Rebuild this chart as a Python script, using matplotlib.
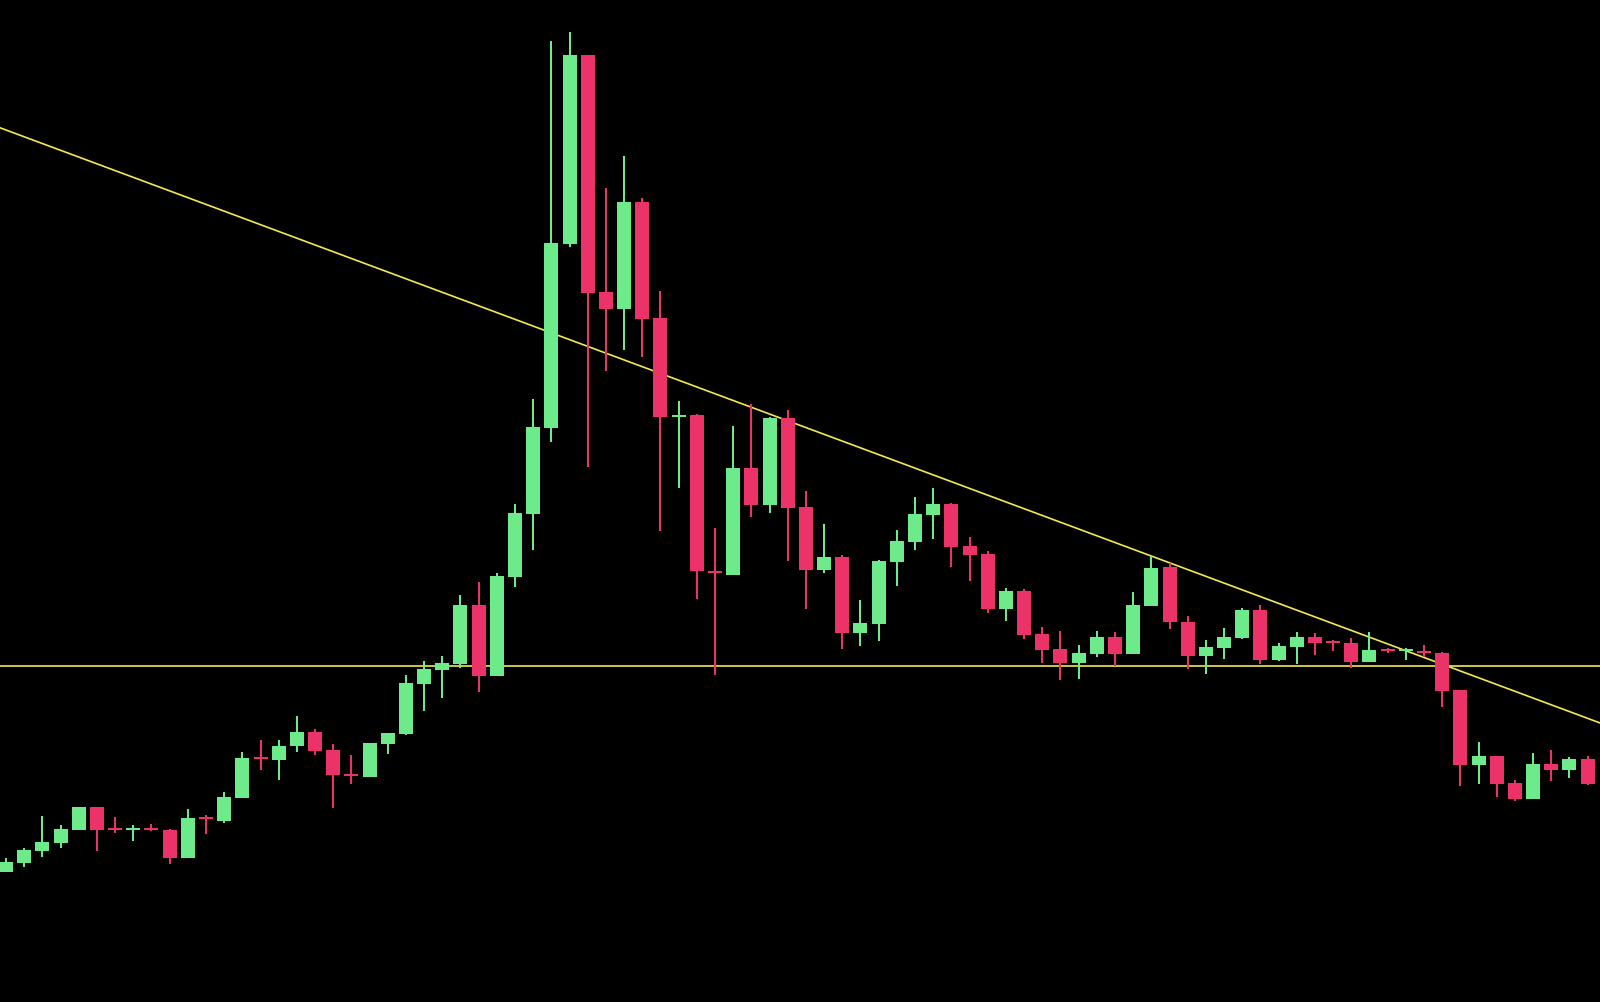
import matplotlib

matplotlib.use("Agg")
import matplotlib.pyplot as plt
import numpy as np

# OHLC prices, one entry per candle (left to right)
OPENS = [
    12.8, 13.7, 14.9, 15.7, 17.0, 19.3, 17.2, 17.1, 17.2, 17.0,
    14.2, 18.3, 17.9, 20.2, 24.3, 24.0, 25.4, 26.8, 25.0, 22.6,
    22.3, 25.6, 26.6, 31.6, 33.0, 33.6, 39.5, 32.4, 42.3, 48.6,
    57.2, 75.6, 94.5, 70.8, 69.1, 79.8, 68.2, 58.4, 58.5, 42.9,
    42.5, 53.2, 49.5, 58.2, 49.3, 43.0, 44.3, 36.7, 37.6, 43.8,
    45.8, 48.5, 49.6, 45.4, 44.6, 39.1, 40.9, 36.6, 35.1, 33.7,
    34.6, 36.3, 34.6, 39.4, 43.3, 37.8, 34.4, 35.2, 36.2, 39.0,
    34.0, 35.3, 36.3, 35.9, 35.7, 33.8, 35.1, 35.0, 34.9, 34.7,
    31.0, 23.5, 24.4, 21.7, 20.1, 23.6, 23.0, 24.1,
]
HIGHS = [
    14.2, 15.2, 18.4, 17.5, 19.3, 19.3, 18.3, 17.5, 17.6, 17.1,
    19.1, 18.5, 20.8, 24.8, 26.0, 26.0, 28.4, 27.1, 25.6, 24.5,
    25.7, 26.7, 32.5, 33.9, 34.4, 40.5, 41.8, 42.7, 49.6, 60.1,
    95.9, 96.8, 94.5, 81.2, 84.4, 80.2, 70.9, 59.9, 58.6, 47.2,
    57.4, 59.6, 58.3, 59.0, 50.9, 47.6, 44.5, 40.0, 44.0, 47.0,
    50.3, 51.2, 49.7, 46.3, 44.9, 41.2, 41.1, 37.3, 36.9, 35.5,
    36.9, 36.8, 40.8, 44.4, 43.7, 38.4, 36.0, 37.2, 39.2, 39.5,
    35.7, 36.8, 36.7, 36.0, 36.2, 36.8, 35.2, 35.2, 35.5, 34.8,
    31.0, 25.8, 24.4, 22.0, 24.7, 25.0, 24.3, 24.4,
]
LOWS = [
    12.8, 13.3, 14.3, 15.2, 17.0, 14.9, 16.7, 15.9, 16.9, 13.6,
    14.2, 16.6, 17.7, 20.2, 23.0, 22.0, 24.8, 24.5, 19.2, 21.6,
    22.3, 24.6, 26.5, 28.9, 30.2, 33.2, 30.8, 32.4, 41.3, 45.0,
    55.8, 75.3, 53.3, 62.9, 65.0, 64.3, 46.9, 51.2, 40.1, 32.5,
    42.5, 48.3, 48.7, 43.9, 39.1, 42.7, 35.1, 35.4, 35.9, 41.4,
    45.0, 46.1, 43.3, 41.9, 38.7, 37.9, 36.1, 33.7, 32.0, 32.1,
    34.3, 33.4, 34.6, 39.4, 37.1, 33.1, 32.6, 34.1, 36.1, 33.6,
    33.9, 33.6, 34.5, 34.9, 33.2, 33.8, 34.7, 34.0, 34.3, 29.3,
    21.4, 21.6, 20.3, 19.9, 20.1, 21.9, 22.2, 21.5,
]
CLOSES = [
    13.8, 15.0, 15.8, 17.1, 19.3, 17.0, 17.1, 17.2, 17.1, 14.2,
    18.2, 18.2, 20.3, 24.2, 24.2, 25.4, 26.8, 24.9, 22.5, 22.5,
    25.7, 26.7, 31.7, 33.1, 33.7, 39.5, 32.4, 42.4, 48.7, 57.3,
    75.7, 94.5, 70.7, 69.1, 79.8, 68.1, 58.3, 58.5, 42.9, 42.8,
    53.2, 49.5, 58.2, 49.2, 43.0, 44.3, 36.7, 37.7, 43.9, 45.9,
    48.6, 49.6, 45.3, 44.5, 39.1, 40.9, 36.5, 35.0, 33.7, 34.7,
    36.3, 34.6, 39.5, 43.2, 37.8, 34.4, 35.3, 36.3, 39.0, 34.0,
    35.4, 36.3, 35.7, 35.8, 33.8, 35.0, 35.0, 35.1, 34.8, 30.9,
    23.5, 24.4, 21.6, 20.1, 23.6, 23.0, 24.1, 21.6,
]

# Drawn levels: horizontal support and descending trendline (index, price)
SUPPORT_LEVEL = 33.4
TREND_POINTS = [(0, 87.0), (80, 32.9)]

UP_COLOR = "#6deb8a"
DOWN_COLOR = "#eb336a"
LINE_COLOR = "#f4ea4c"


def main() -> None:
    opens = np.array(OPENS)
    closes = np.array(CLOSES)
    x = np.arange(len(opens))
    colors = np.where(closes >= opens, UP_COLOR, DOWN_COLOR)

    fig = plt.figure(figsize=(16, 10.02), dpi=100, facecolor="black")
    ax = fig.add_axes([0, 0, 1, 1])
    ax.set_facecolor("black")

    # lines sit behind the candles
    ax.axhline(SUPPORT_LEVEL, color=LINE_COLOR, lw=1.2, zorder=1)
    ax.axline(TREND_POINTS[0], TREND_POINTS[1], color=LINE_COLOR, lw=1.2, zorder=1)

    ax.vlines(x, LOWS, HIGHS, colors=colors, lw=1.45, zorder=2)
    body = np.maximum(np.abs(closes - opens), 0.2)
    bottom = np.minimum(opens, closes)
    # doji candles get a thin 2px body centred on the price
    bottom = np.where(np.abs(closes - opens) < 0.2, (opens + closes) / 2 - 0.1, bottom)
    ax.bar(x, body, bottom=bottom, width=0.77, color=colors, zorder=3, linewidth=0)

    ax.set_xlim(-0.33, 87.68)
    ax.set_ylim(-0.2, 100.0)
    ax.axis("off")

    fig.savefig("out.png", dpi=100, facecolor="black")
    plt.close(fig)


if __name__ == "__main__":
    main()
